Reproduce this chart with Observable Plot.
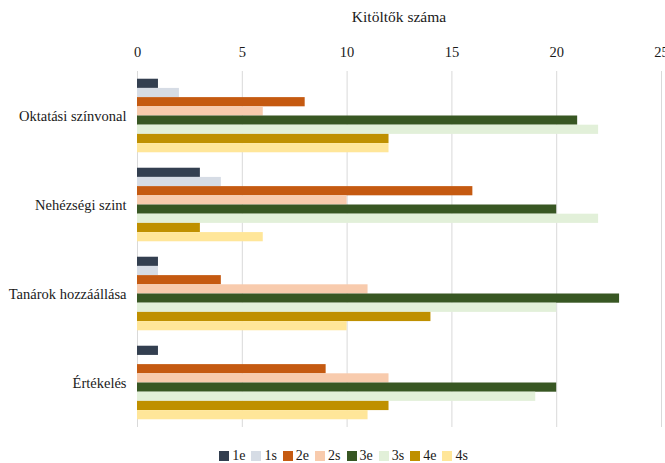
<!DOCTYPE html>
<html>
<head>
<meta charset="utf-8">
<script src="https://cdn.jsdelivr.net/npm/d3@7"></script>
<script src="https://cdn.jsdelivr.net/npm/@observablehq/plot@0.6"></script>
<style>
  body { margin: 0; background: #fff; font-family: 'Liberation Serif', serif; }
  #wrap { width: 665px; }
  #title { height: 34px; line-height: 34px; padding-left: 137px; padding-right: 4px; text-align: center; font-size: 15.5px; color: #1a1a1a; font-family: 'Liberation Serif', serif; }
  #chart svg text { font-family: 'Liberation Serif', serif; }
  #legend { display: flex; justify-content: center; padding-left: 28px; height: 15px; align-items: center; font-size: 14px; color: #1a1a1a; font-family: 'Liberation Serif', serif; }
  .sw { display: inline-flex; align-items: center; margin-right: 6px; }
  .sw span.box { width: 10px; height: 10px; margin-right: 3px; display: inline-block; }
</style>
</head>
<body>
<div id="wrap">
  <div id="title">Kitöltők száma</div>
  <div id="chart"></div>
  <div id="legend"></div>
</div>
<script>
// Survey answers per aspect, split into eight respondent groups
const categories = ["Oktatási színvonal", "Nehézségi szint", "Tanárok hozzáállása", "Értékelés"];
const series = ["1e", "1s", "2e", "2s", "3e", "3s", "4e", "4s"];
const colors = ["#333F50", "#D6DCE5", "#C55A11", "#F8CBAD", "#385723", "#E2F0D9", "#BF9000", "#FFE699"];

const v1e = [1, 3, 1, 1];
const v1s = [2, 4, 1, 0];
const v2e = [8, 16, 4, 9];
const v2s = [6, 10, 11, 12];
const v3e = [21, 20, 23, 20];
const v3s = [22, 22, 20, 19];
const v4e = [12, 3, 14, 12];
const v4s = [12, 6, 10, 11];

const xTicks = [0, 5, 10, 15, 20, 25];

const seriesValues = [v1e, v1s, v2e, v2s, v3e, v3s, v4e, v4s];
const rows = [];
series.forEach((s, j) => {
  categories.forEach((c, i) => rows.push({cat: c, series: s, value: seriesValues[j][i]}));
});

const chart = Plot.plot({
  width: 665,
  height: 414,
  marginTop: 36,
  marginBottom: 20,
  marginLeft: 137,
  marginRight: 4,
  style: {fontFamily: "'Liberation Serif', serif", fontSize: "14.5px", color: "#1a1a1a", background: "#fff", overflow: "visible"},
  x: {domain: [0, 25], axis: "top", ticks: xTicks, tickSize: 0, tickPadding: 15, label: null},
  y: {domain: series, axis: null, paddingInner: 0, paddingOuter: 0.84, round: false},
  fy: {domain: categories, axis: "left", padding: 0, tickSize: 0, tickPadding: 11, label: null},
  color: {domain: series, range: colors},
  facet: {data: rows, y: "cat"},
  marks: [
    Plot.ruleX(xTicks, {stroke: "#d9d9d9", strokeWidth: 1}),
    Plot.barX(rows, {x: "value", y: "series", fill: "series"})
  ]
});
document.getElementById("chart").appendChild(chart);

// Swatch legend below the chart, coloured through the chart's own color scale
const colorScale = chart.scale("color");
const legend = d3.select("#legend");
series.forEach(s => {
  const item = legend.append("span").attr("class", "sw");
  item.append("span").attr("class", "box").style("background", colorScale.apply(s));
  item.append("span").text(s);
});
</script>
</body>
</html>
